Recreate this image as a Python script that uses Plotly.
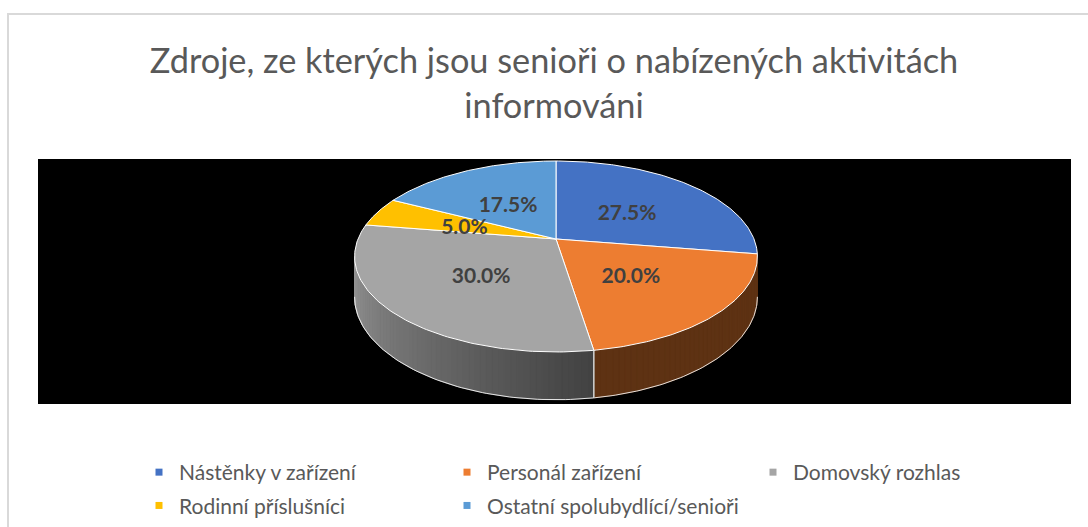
import numpy as np
import plotly.graph_objects as go

# ---- data ----
categories = ["Nástěnky v zařízení", "Personál zařízení", "Domovský rozhlas",
              "Rodinní příslušníci", "Ostatní spolubydlící/senioři"]
shares = [27.5, 20.0, 30.0, 5.0, 17.5]
colors = ["#4472C4", "#ED7D31", "#A5A5A5", "#FFC000", "#5B9BD5"]
title_lines = ["Zdroje, ze kterých jsou senioři o nabízených aktivitách", "informováni"]

W, H = 1088, 527
FONT = "Lato"
# ---- 3D pie geometry (pixel space) ----
CX, CY = 556, 239      # apex of the top face
RX, RY = 198, 92.3     # radii
K = 0.183              # perspective strength
DEPTH = 39             # wall height
LABEL_DY = 4           # label vertical nudge (px)

def proj(theta_deg, r=1.0, drop=0.0):
    t = np.radians(theta_deg)
    u = r * np.sin(t)
    v = -r * np.cos(t)
    s = 1.0 / (1.0 - K * v)
    return CX + RX * u * s, CY + RY * v * s + drop * s

def shade(hex_color, f):
    h = hex_color.lstrip("#")
    rgb = [int(h[i:i + 2], 16) for i in (0, 2, 4)]
    return "rgb(%d,%d,%d)" % tuple(int(max(0, min(255, c * f))) for c in rgb)

def light(theta):
    return 0.40 + 0.57 * np.clip((theta - 171) / 99.0, 0, 1)

total = sum(shares)
bounds = np.concatenate([[0], np.cumsum(shares) / total * 360.0])
theta_vis0 = np.degrees(np.arccos(-K))
theta_vis1 = 360 - theta_vis0

fig = go.Figure()

# walls
for i, (c, a0, a1) in enumerate(zip(colors, bounds[:-1], bounds[1:])):
    lo, hi = max(a0, theta_vis0), min(a1, theta_vis1)
    if hi <= lo:
        continue
    steps = np.linspace(lo, hi, max(2, int((hi - lo) / 1.5) + 1))
    for ta, tb in zip(steps[:-1], steps[1:]):
        xa, ya = proj(ta)
        xb, yb = proj(tb)
        xa2, ya2 = proj(ta, drop=DEPTH)
        xb2, yb2 = proj(tb, drop=DEPTH)
        col = shade(c, light((ta + tb) / 2))
        fig.add_trace(go.Scatter(x=[xa, xb, xb2, xa2, xa], y=[ya, yb, yb2, ya2, ya],
                                 fill="toself", fillcolor=col, mode="lines",
                                 line=dict(color=col, width=1),
                                 showlegend=False, hoverinfo="skip"))
    arc = np.linspace(lo, hi, 80)
    bx, by = proj(arc, drop=DEPTH)
    fig.add_trace(go.Scatter(x=bx, y=by, mode="lines",
                             line=dict(color="rgba(255,255,255,0.85)", width=1),
                             showlegend=False, hoverinfo="skip"))
    for tt in (a0, a1):
        if theta_vis0 < tt < theta_vis1:
            x0, y0 = proj(tt)
            x1, y1 = proj(tt, drop=DEPTH)
            fig.add_trace(go.Scatter(x=[x0, x1], y=[y0, y1], mode="lines",
                                     line=dict(color="white", width=1),
                                     showlegend=False, hoverinfo="skip"))

# top faces
for i, (c, a0, a1) in enumerate(zip(colors, bounds[:-1], bounds[1:])):
    arc = np.linspace(a0, a1, 120)
    ax, ay = proj(arc)
    xs = np.concatenate([[CX], ax, [CX]])
    ys = np.concatenate([[CY], ay, [CY]])
    fig.add_trace(go.Scatter(x=xs, y=ys, fill="toself", fillcolor=c, mode="lines",
                             line=dict(color="white", width=1),
                             name=categories[i], showlegend=False,
                             hovertemplate="%s: %.1f%%<extra></extra>" % (categories[i], shares[i])))

# labels
mids = (bounds[:-1] + bounds[1:]) / 2
lx, ly = proj(mids, r=0.5)
fig.add_trace(go.Scatter(x=lx, y=ly + LABEL_DY, mode="text",
                         text=["%.1f%%" % s for s in shares],
                         textfont=dict(family=FONT, size=21, color="#404040", weight="bold"),
                         showlegend=False, hoverinfo="skip"))

# legend entries: three columns, filled row by row
legend_cols = ["legend", "legend2", "legend3"]
for i, (n, c) in enumerate(zip(categories, colors)):
    fig.add_trace(go.Scatter(x=[None], y=[None], mode="markers", name=n,
                             legend=legend_cols[i % 3], legendgroup="g%d" % i,
                             marker=dict(symbol="square", size=7, color=c)))

leg_common = dict(orientation="v", xanchor="left", y=1 - 452 / H, yanchor="top",
                  font=dict(family=FONT, size=21, color="#595959"),
                  bgcolor="rgba(0,0,0,0)", tracegroupgap=3,
                  itemclick=False, itemdoubleclick=False)
col_text_x = [176, 484, 790]

fig.update_layout(
    width=W, height=H,
    margin=dict(l=0, r=0, t=0, b=0, autoexpand=False),
    paper_bgcolor="white", plot_bgcolor="white",
    xaxis=dict(range=[0, W], visible=False, fixedrange=True),
    yaxis=dict(range=[H, 0], visible=False, fixedrange=True),
    title=dict(text="<br>".join(title_lines), x=554 / W, xanchor="center",
               y=1 - 73 / H, yanchor="top", yref="container",
               font=dict(family=FONT, size=34.3, color="#595959")),
    legend=dict(x=(col_text_x[0] - 37) / W, **leg_common),
    legend2=dict(x=(col_text_x[1] - 37) / W, **leg_common),
    legend3=dict(x=(col_text_x[2] - 37) / W, **leg_common),
    shapes=[
        dict(type="rect", xref="x", yref="y", x0=8, y0=14, x1=W + 20, y1=H + 20,
             line=dict(color="#D9D9D9", width=2), fillcolor="white", layer="below"),
        dict(type="rect", xref="x", yref="y", x0=38, y0=159, x1=1071, y1=404,
             line=dict(width=0), fillcolor="black", layer="below"),
    ],
)

fig.write_html("out.html", config={"displayModeBar": False},
               post_script="document.body.style.margin='0';document.body.style.overflow='hidden';")
